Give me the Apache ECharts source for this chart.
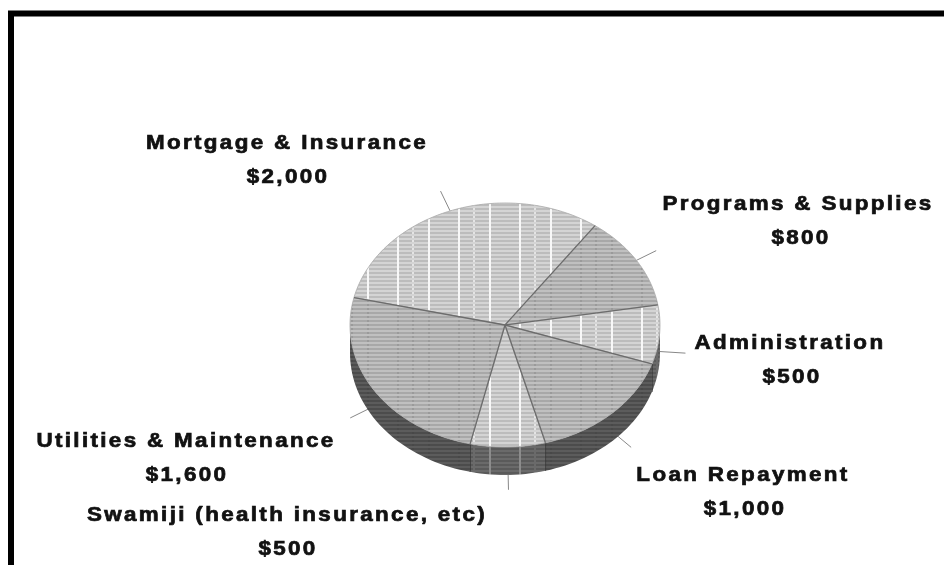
<!DOCTYPE html>
<html>
<head>
<meta charset="utf-8">
<style>
  html, body { margin: 0; background: #fff; }
  #chart { width: 944px; height: 565px; overflow: hidden; filter: blur(0.6px); }
  #chart text { letter-spacing: 2.1px; }
</style>
<script src="https://cdn.jsdelivr.net/npm/echarts@6/dist/echarts.min.js"></script>
</head>
<body>
<div id="chart"></div>
<script>
// slices, clockwise from the mortgage/utilities edge
const categories = ["Mortgage & Insurance", "Programs & Supplies", "Administration", "Loan Repayment", "Swamiji (health insurance, etc)", "Utilities & Maintenance"];
const amounts = [2000, 800, 500, 1000, 500, 1600];
const amountLabels = ["$2,000", "$800", "$500", "$1,000", "$500", "$1,600"];

// layout: name x, name y, amount x, amount y
const labelSpots = [[287, 142, 288, 176], [798, 203, 801, 237], [790, 342, 792, 376], [743, 474, 745, 508], [287, 514, 288, 548], [186, 440, 187, 474]];
const hatchKinds = ["light", "dark", "light", "dark", "light", "dark"];
const cx = 505, cy = 325, rx = 155, ry = 122, depth = 28;
const startAngle = -77;

function tile(bg, stripe, solid, dotted) {
  const c = document.createElement("canvas");
  c.width = 61;
  c.height = 4;
  const g = c.getContext("2d");
  g.fillStyle = bg;
  g.fillRect(0, 0, 61, 4);
  g.fillStyle = stripe;
  g.fillRect(0, 2, 61, 2);
  if (solid) {
    g.fillStyle = solid;
    g.fillRect(1, 0, 2, 4);
    g.fillRect(31, 0, 2, 4);
  }
  g.fillStyle = dotted;
  g.fillRect(46, 0, 2, 2);
  if (!solid) {
    g.fillRect(1, 0, 2, 2);
    g.fillRect(31, 0, 2, 2);
  }
  return c;
}

const fills = {
  light: { image: tile("#bcbcbc", "#d4d4d4", "#f8f8f8", "#e4e4e4"), repeat: "repeat" },
  dark: { image: tile("#a8a8a8", "#c0c0c0", null, "#9a9a9a"), repeat: "repeat" },
  wallLight: { image: tile("#5a5a5a", "#6a6a6a", "#8c8c8c", "#6a6a6a"), repeat: "repeat" },
  wallDark: { image: tile("#4c4c4c", "#5c5c5c", null, "#484848"), repeat: "repeat" }
};

const total = amounts.reduce((a, b) => a + b, 0);
let run = startAngle;
const spans = amounts.map(v => {
  const from = run;
  run += v / total * 360;
  return [from, run];
});

function rim(deg, drop) {
  const r = deg * Math.PI / 180;
  return [cx + rx * Math.sin(r), cy - ry * Math.cos(r) + (drop || 0)];
}

function arc(from, to, drop) {
  const pts = [];
  const n = Math.max(2, Math.ceil(Math.abs(to - from) / 2));
  for (let i = 0; i <= n; i++) pts.push(rim(from + (to - from) * i / n, drop));
  return pts;
}

function renderWall(params) {
  const s = spans[params.dataIndex];
  const a = Math.max(s[0], 90), b = Math.min(s[1], 270);
  if (b <= a) return { type: "group", children: [] };
  const kind = hatchKinds[params.dataIndex];
  const children = [{
    type: "polygon",
    shape: { points: arc(a, b, 0).concat(arc(b, a, depth)) },
    style: { fill: kind === "light" ? fills.wallLight : fills.wallDark }
  }];
  // edge between two wall panels
  if (s[1] < 270) {
    const p = rim(s[1], 0);
    children.push({
      type: "line",
      shape: { x1: p[0], y1: p[1], x2: p[0], y2: p[1] + depth },
      style: { stroke: "#2a2a2a", lineWidth: 1.2 }
    });
  }
  return { type: "group", children: children };
}

function renderTop(params) {
  const s = spans[params.dataIndex];
  return {
    type: "polygon",
    shape: { points: [[cx, cy]].concat(arc(s[0], s[1], 0)) },
    style: { fill: fills[hatchKinds[params.dataIndex]], stroke: "#a8a8a8", lineWidth: 0.8 }
  };
}

function renderEdge(params) {
  const p = rim(spans[params.dataIndex][0], 0);
  return {
    type: "line",
    shape: { x1: cx, y1: cy, x2: p[0], y2: p[1] },
    style: { stroke: "#6c6c6c", lineWidth: 1.3 }
  };
}

function renderLeader(params) {
  const s = spans[params.dataIndex];
  const mid = (s[0] + s[1]) / 2;
  const front = Math.cos(mid * Math.PI / 180) < 0.1;
  const p = rim(mid, front ? depth * 0.6 : 0);
  const q = rim(mid, 0);
  const dx = q[0] - cx, dy = q[1] - cy, len = Math.hypot(dx, dy);
  const out = front ? 26 : 22;
  return {
    type: "line",
    shape: { x1: p[0], y1: p[1], x2: p[0] + dx / len * out, y2: p[1] + dy / len * out },
    style: { stroke: "#888888", lineWidth: 1 }
  };
}

function renderLabel(params) {
  const i = params.dataIndex;
  const spot = labelSpots[i];
  const line = (text, x, y) => ({
    type: "text",
    x: x,
    y: y,
    scaleX: 1.12,
    style: {
      text: text,
      fill: "#111111",
      stroke: "#111111",
      lineWidth: 0.7,
      font: 'bold 20px "Liberation Sans", Arial, sans-serif',
      align: "center",
      verticalAlign: "middle"
    }
  });
  return { type: "group", children: [line(categories[i], spot[0], spot[1]), line(amountLabels[i], spot[2], spot[3])] };
}

const chart = echarts.init(document.getElementById("chart"), null, { renderer: "svg" });
chart.setOption({
  animation: false,
  backgroundColor: "#ffffff",
  graphic: [{
    type: "rect",
    z: 0,
    shape: { x: 11, y: 13.5, width: 1000, height: 700 },
    style: { fill: "none", stroke: "#000000", lineWidth: 6 }
  }],
  series: [
    { type: "custom", coordinateSystem: "none", silent: true, z: 2, data: amounts, renderItem: renderLeader },
    { type: "custom", coordinateSystem: "none", silent: true, z: 3, data: amounts, renderItem: renderWall },
    { type: "custom", coordinateSystem: "none", silent: true, z: 4, data: amounts, renderItem: renderTop },
    { type: "custom", coordinateSystem: "none", silent: true, z: 5, data: amounts, renderItem: renderEdge },
    { type: "custom", coordinateSystem: "none", silent: true, z: 6, data: amounts, renderItem: renderLabel }
  ]
});
</script>
</body>
</html>
